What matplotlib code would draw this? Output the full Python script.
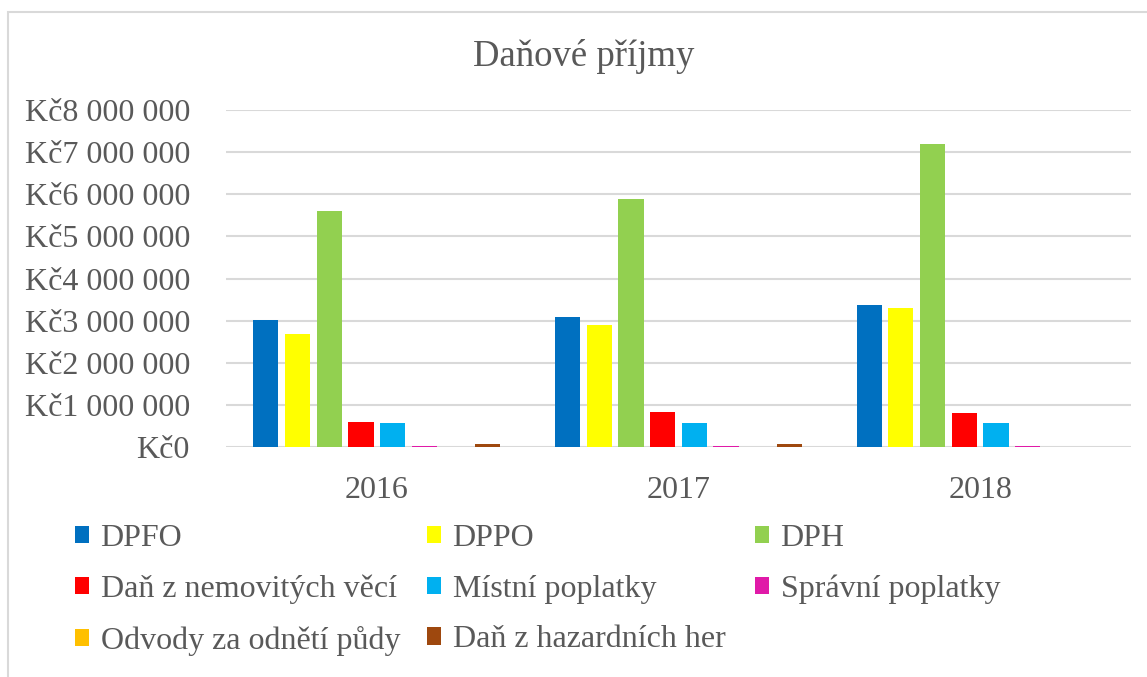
import matplotlib.pyplot as plt
from matplotlib.patches import Patch, Rectangle
from matplotlib.ticker import FuncFormatter, MultipleLocator
import numpy as np

plt.rcParams['font.family'] = ['Liberation Serif', 'DejaVu Serif']

years = ['2016', '2017', '2018']
series = ['DPFO', 'DPPO', 'DPH', 'Daň z nemovitých věcí', 'Místní poplatky',
          'Správní poplatky', 'Odvody za odnětí půdy', 'Daň z hazardních her']
colors = ['#0070C0', '#FFFF00', '#92D050', '#FF0000', '#00B0F0',
          '#E01AA8', '#FFC000', '#9E480E']

dpfo = [3010000, 3090000, 3380000]
dppo = [2690000, 2890000, 3300000]
dph = [5600000, 5890000, 7190000]
dan_nemovitosti = [590000, 830000, 800000]
mistni_poplatky = [560000, 580000, 580000]
spravni_poplatky = [30000, 30000, 30000]
odvody_puda = [0, 0, 0]
dan_hazard = [80000, 70000, 0]

values = [dpfo, dppo, dph, dan_nemovitosti, mistni_poplatky,
          spravni_poplatky, odvody_puda, dan_hazard]

W, H = 1147, 677
fig = plt.figure(figsize=(W / 100, H / 100), dpi=100)
ax = fig.add_axes([226 / W, 1 - 447 / H, (1131 - 226) / W, (447 - 110) / H])

txt = '#595959'
grid = '#D9D9D9'

x = np.arange(len(years))
slot = 0.105
bw = 0.083
for i, (vals, c) in enumerate(zip(values, colors)):
    ax.bar(x + (i - 3.5) * slot, vals, width=bw, color=c, zorder=3)

ax.set_xlim(-0.5, 2.5)
ax.set_ylim(0, 8000000)
ax.yaxis.set_major_locator(MultipleLocator(1000000))
ax.yaxis.set_major_formatter(FuncFormatter(lambda v, p: 'Kč' + f'{v:,.0f}'.replace(',', ' ')))
ax.set_xticks(x)
ax.set_xticklabels(years)
ax.grid(axis='y', color=grid, linewidth=1.5, zorder=0)
for s in ax.spines.values():
    s.set_visible(False)
ax.tick_params(axis='both', length=0, labelsize=23, labelcolor=txt)
ax.tick_params(axis='y', pad=26)
ax.tick_params(axis='x', pad=21)

fig.text(584 / W, 1 - 57 / H, 'Daňové příjmy', ha='center', va='center',
         fontsize=26.5, color=txt)

# chart border
fig.patches.append(Rectangle((8 / W, -0.1), 1.2, 1 - 12 / H + 0.1,
                             transform=fig.transFigure, fill=False,
                             edgecolor=grid, linewidth=1.5))

# legend laid out in three columns, row by row
handles = [Patch(facecolor=c) for c in colors]
col_x = [75, 427, 755]
for k in range(3):
    idx = list(range(k, len(series), 3))
    fig.legend([handles[i] for i in idx], [series[i] for i in idx],
               loc='upper left', bbox_to_anchor=(col_x[k] / W, 1 - 524 / H),
               frameon=False, fontsize=23, labelcolor=txt,
               handlelength=0.45, handleheight=0.45, handletextpad=0.35,
               labelspacing=0.68, borderpad=0, borderaxespad=0)

fig.savefig('out.png', dpi=100)
